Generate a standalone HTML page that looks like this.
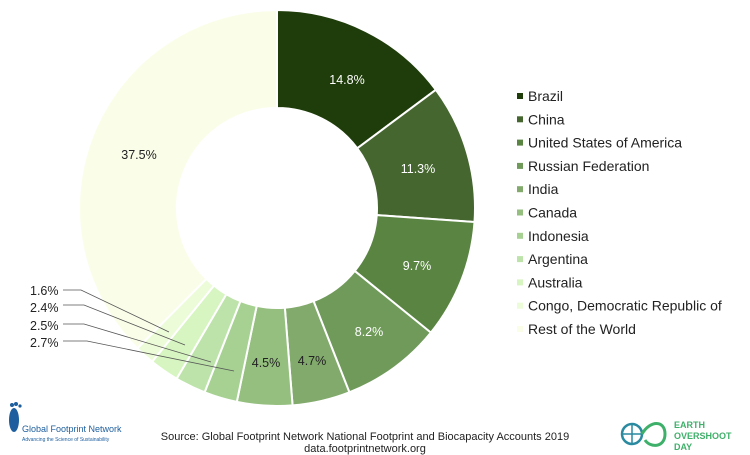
<!DOCTYPE html>
<html><head><meta charset="utf-8"><style>
body{margin:0;background:#fff;width:750px;height:455px;overflow:hidden;font-family:"Liberation Sans",sans-serif}
</style></head><body>
<svg id="s" width="750" height="455" xmlns="http://www.w3.org/2000/svg" style="position:absolute;left:0;top:0">
<g id="pie"></g>
<g font-size="12.5" fill="#222" font-family="Liberation Sans,sans-serif">
<text x="347" y="84" text-anchor="middle" fill="#fff">14.8%</text>
<text x="418" y="173" text-anchor="middle" fill="#fff">11.3%</text>
<text x="417" y="270" text-anchor="middle" fill="#fff">9.7%</text>
<text x="369" y="336" text-anchor="middle" fill="#fff">8.2%</text>
<text x="312" y="365" text-anchor="middle">4.7%</text>
<text x="266" y="367" text-anchor="middle">4.5%</text>
<text x="139" y="159" text-anchor="middle">37.5%</text>
<text x="30" y="295">1.6%</text>
<text x="30" y="312">2.4%</text>
<text x="30" y="330">2.5%</text>
<text x="30" y="347">2.7%</text>
</g>
<g stroke="#555" stroke-width="0.8" fill="none">
<polyline points="63,290 81,290 169,332"/>
<polyline points="63,305 84,305 185,345"/>
<polyline points="63,324 84,324 211,362"/>
<polyline points="63,341 87,341 234,371"/>
</g>
<g id="leg" font-size="14" fill="#222"></g>
<text x="365" y="440" font-size="11" text-anchor="middle" fill="#222">Source: Global Footprint Network National Footprint and Biocapacity Accounts 2019</text>
<text x="365" y="452" font-size="11" text-anchor="middle" fill="#222">data.footprintnetwork.org</text>
<g fill="#1d5e9e">
<ellipse cx="14" cy="420" rx="5" ry="12"/>
<circle cx="12" cy="405" r="2"/><circle cx="16" cy="404" r="2"/><circle cx="20" cy="406" r="1.6"/>
</g>
<text x="22" y="432" font-size="9" fill="#1d5e9e">Global Footprint Network</text>
<text x="22" y="441" font-size="5" fill="#1d5e9e">Advancing the Science of Sustainability</text>
<circle cx="632" cy="434" r="10" fill="none" stroke="#2a8aa0" stroke-width="2.5"/>
<path d="M622 434h20M632 424v20" stroke="#2a8aa0" stroke-width="1.5"/>
<path d="M642 434 C650 420 665 420 665 434 C665 448 650 448 645 440" fill="none" stroke="#3fb06a" stroke-width="3"/>
<g font-size="9" font-weight="bold" fill="#3fb06a"><text x="674" y="428">EARTH</text><text x="674" y="439">OVERSHOOT</text><text x="674" y="450" fill="#3fb06a">DAY</text></g>
</svg>
<script>
var vals=[14.8,11.3,9.7,8.2,4.7,4.5,2.7,2.5,2.4,1.6,37.5];
var cols=["#1f3d0a","#466630","#5a8442","#6f9a5a","#82aa6c","#95bf7f","#a6d192","#bde3aa","#d7f5c0","#ecfbd8","#fafee9"];
var names=["Brazil","China","United States of America","Russian Federation","India","Canada","Indonesia","Argentina","Australia","Congo, Democratic Republic of","Rest of the World"];
var cx=277,cy=208,R=198,r=100,tot=vals.reduce((a,b)=>a+b,0),a=0,h="";
function p(rad,ang){return [cx+rad*Math.sin(ang),cy-rad*Math.cos(ang)];}
vals.forEach(function(v,i){var a1=a+v/tot*2*Math.PI;var L=(a1-a)>Math.PI?1:0;
var A=p(R,a),B=p(R,a1),C=p(r,a1),D=p(r,a);
h+='<path d="M'+A+' A'+R+' '+R+' 0 '+L+' 1 '+B+' L'+C+' A'+r+' '+r+' 0 '+L+' 0 '+D+'Z" fill="'+cols[i]+'" stroke="#fff" stroke-width="2"/>';a=a1;});
document.getElementById('pie').innerHTML=h;
var g="";names.forEach(function(n,i){var y=96+i*23.3;g+='<rect x="517" y="'+(y-3)+'" width="6" height="6" fill="'+cols[i]+'"/><text x="528" y="'+(y+5)+'">'+n+'</text>';});
document.getElementById('leg').innerHTML=g;
</script>
</body></html>
